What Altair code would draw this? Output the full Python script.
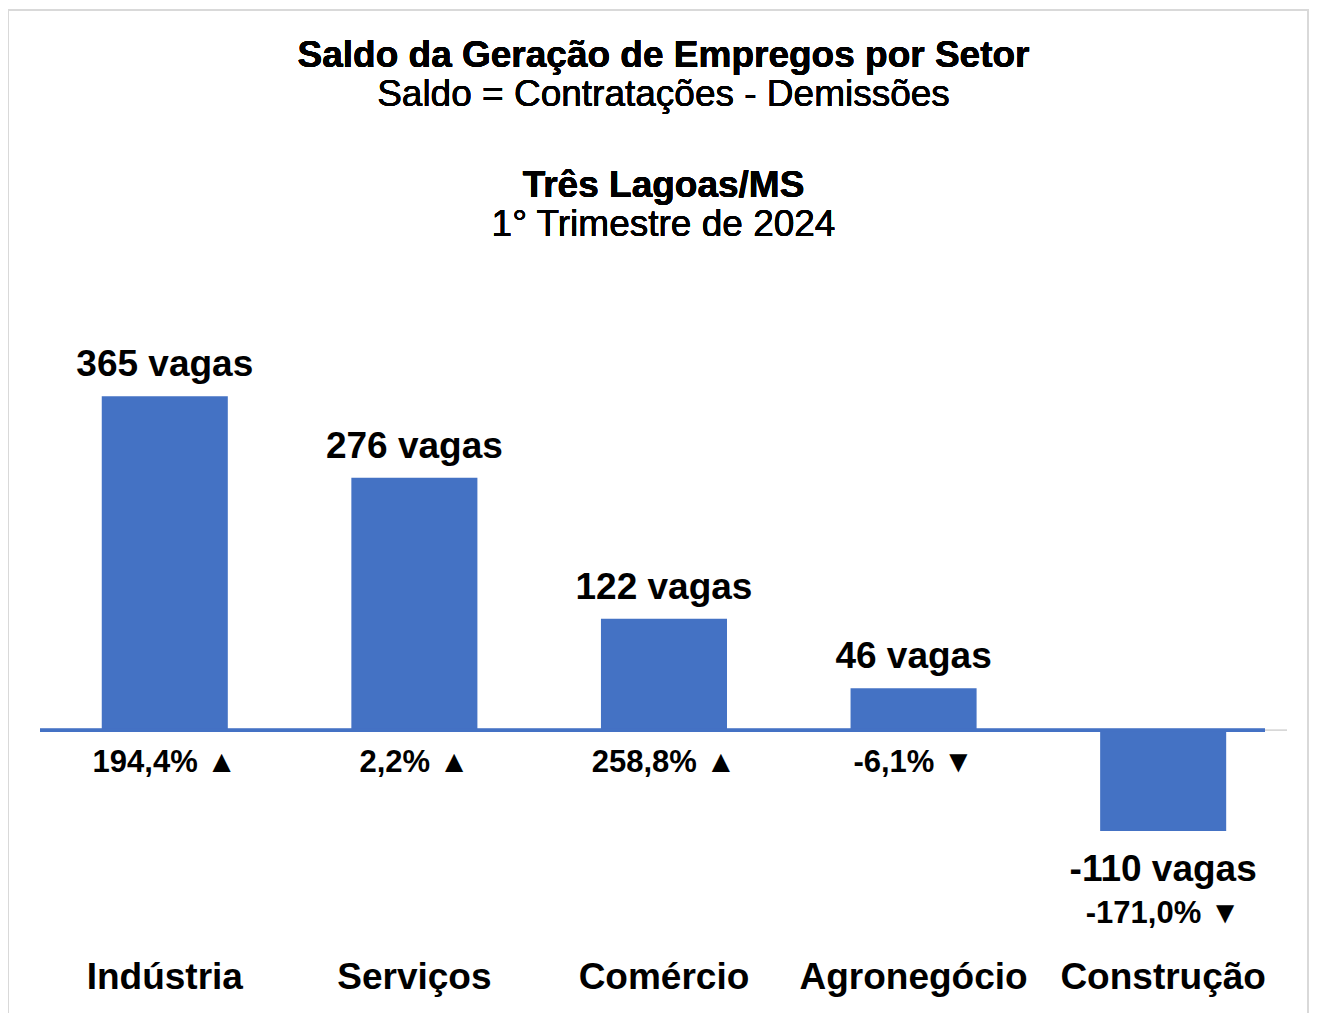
import altair as alt
import pandas as pd

# ---- data ----
setores = ["Indústria", "Serviços", "Comércio", "Agronegócio", "Construção"]
saldos = [365, 276, 122, 46, -110]
variacoes = [194.4, 2.2, 258.8, -6.1, -171.0]

titulo = "Saldo da Geração de Empregos por Setor"
subtitulo = "Saldo = Contratações - Demissões"
local = "Três Lagoas/MS"
periodo = "1° Trimestre de 2024"


def fmt_pct(v):
    s = f"{v:.1f}".replace(".", ",") + "%"
    return s + (" ▲" if v >= 0 else " ▼")


df = pd.DataFrame({"setor": setores, "saldo": saldos, "var": variacoes})
df["rotulo"] = [f"{v} vagas" for v in saldos]
df["pct"] = [fmt_pct(v) for v in variacoes]
df["zero"] = 0

FONT = "Liberation Sans"
BLUE = "#4472C4"
BORDER = "#d9d9d9"
W, H = 1301, 1003

x = alt.X("setor:N", sort=setores, axis=None,
          scale=alt.Scale(paddingInner=0.495, paddingOuter=0.3537, align=0.531))
y_scale = alt.Scale(domain=[-309.0, 787.2], nice=False, zero=False)
yq = lambda f: alt.Y(f, scale=y_scale, axis=None)

base = alt.Chart(df)

bars = base.mark_bar(color=BLUE).encode(x=x, y=yq("saldo:Q"), y2=alt.Y2("zero:Q"))

zero_gray = base.mark_rule(color=BORDER, strokeWidth=1).encode(
    y=yq("zero:Q"), x=alt.value(32), x2=alt.value(1279))
zero_blue = base.mark_rule(color=BLUE, strokeWidth=3).encode(
    y=yq("zero:Q"), x=alt.value(32), x2=alt.value(1257))

# frame (top, left, right)
frame_top = base.mark_rule(color=BORDER, strokeWidth=2).encode(
    x=alt.value(0), x2=alt.value(W), y=alt.value(0))
frame_left = base.mark_rule(color=BORDER, strokeWidth=2).encode(
    x=alt.value(0), y=alt.value(0), y2=alt.value(H))
frame_right = base.mark_rule(color=BORDER, strokeWidth=2).encode(
    x=alt.value(W - 1), y=alt.value(0), y2=alt.value(H))

txt = dict(font=FONT, color="black", baseline="alphabetic", align="center")
BIG = 37
PCT = 31

lab_pos = base.transform_filter("datum.saldo >= 0").mark_text(
    fontSize=BIG, fontWeight="bold", dy=-20, **txt
).encode(x=x, y=yq("saldo:Q"), text="rotulo:N")

lab_neg = base.transform_filter("datum.saldo < 0").mark_text(
    fontSize=BIG, fontWeight="bold", dy=50, **txt
).encode(x=x, y=yq("saldo:Q"), text="rotulo:N")

pct_pos = base.transform_filter("datum.saldo >= 0").mark_text(
    fontSize=PCT, fontWeight="bold", dy=42, **txt
).encode(x=x, y=yq("zero:Q"), text="pct:N")

pct_neg = base.transform_filter("datum.saldo < 0").mark_text(
    fontSize=PCT, fontWeight="bold", dy=92, **txt
).encode(x=x, y=yq("saldo:Q"), text="pct:N")

cats = base.mark_text(fontSize=BIG, fontWeight="bold", **txt).encode(
    x=x, y=alt.value(979), text="setor:N"
)


def title_line(text, y, bold):
    return alt.Chart(df).mark_text(
        text=text, fontSize=BIG, fontWeight="bold" if bold else "normal", **txt
    ).encode(x=alt.value(655.5), y=alt.value(y))


t1 = title_line(titulo, 57, True)
t2 = title_line(subtitulo, 96, False)
t3 = title_line(local, 187, True)
t4 = title_line(periodo, 226, False)

chart = alt.layer(
    frame_top, frame_left, frame_right,
    zero_gray, bars, zero_blue, lab_pos, lab_neg, pct_pos, pct_neg, cats,
    t1, t2, t3, t4,
).properties(
    width=W, height=H,
    autosize=alt.AutoSizeParams(type="none"),
    padding={"left": 0, "top": 2, "right": 0, "bottom": 0},
).configure_view(
    stroke=None
).configure(background="white")

chart.save("out.html", embed_options={"renderer": "svg", "actions": False})
